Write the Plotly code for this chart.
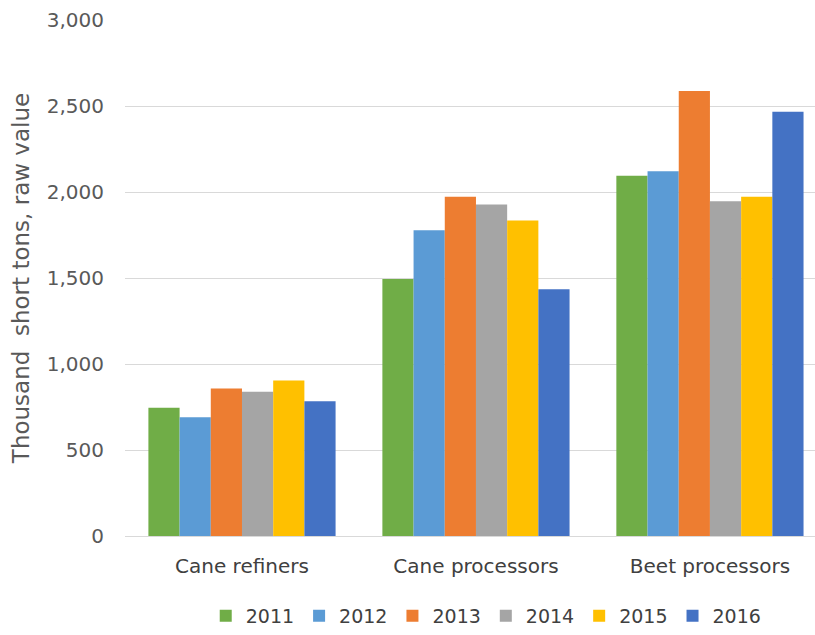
import plotly.graph_objects as go

categories = ["Cane refiners", "Cane processors", "Beet processors"]
years = ["2011", "2012", "2013", "2014", "2015", "2016"]
values = {
    "2011": [745, 1494, 2095],
    "2012": [691, 1778, 2121],
    "2013": [857, 1973, 2587],
    "2014": [838, 1927, 1946],
    "2015": [904, 1834, 1973],
    "2016": [784, 1434, 2467],
}
colors = ["#70ad47", "#5b9bd5", "#ed7d31", "#a5a5a5", "#ffc000", "#4472c4"]
y_ticks = [0, 500, 1000, 1500, 2000, 2500, 3000]
y_title = "Thousand  short tons, raw value"

fig = go.Figure()
for yr, col in zip(years, colors):
    fig.add_trace(go.Bar(name=yr, x=categories, y=values[yr], marker_color=col,
                         marker_line_width=0))

font_fam = "DejaVu Sans, Arial, sans-serif"
fig.update_layout(
    width=815, height=635,
    margin=dict(l=125, r=0, t=20, b=98),
    paper_bgcolor="white", plot_bgcolor="white",
    barmode="group", bargap=0.2, bargroupgap=0,
    font=dict(family=font_fam, size=20, color="#595959"),
    showlegend=True,
    legend=dict(orientation="h", x=0.117, xanchor="left", y=-0.155, yanchor="middle",
                font=dict(size=19, color="#404040"), itemwidth=30,
                traceorder="normal"),
    xaxis=dict(range=[-0.5, 2.449], showgrid=False, showline=False, ticks="",
               tickfont=dict(size=20, color="#404040"), ticklabelstandoff=16),
    yaxis=dict(range=[0, 3000], tickvals=y_ticks, tickformat=",d",
               showgrid=True, gridcolor="#d9d9d9", gridwidth=1,
               zeroline=True, zerolinecolor="#d9d9d9", zerolinewidth=1,
               showline=False, ticks="", ticklabelstandoff=20,
               tickfont=dict(size=20, color="#595959"),
               title=dict(text=y_title, font=dict(size=23, color="#595959"), standoff=10)),
)

fig.write_html("out.html")
